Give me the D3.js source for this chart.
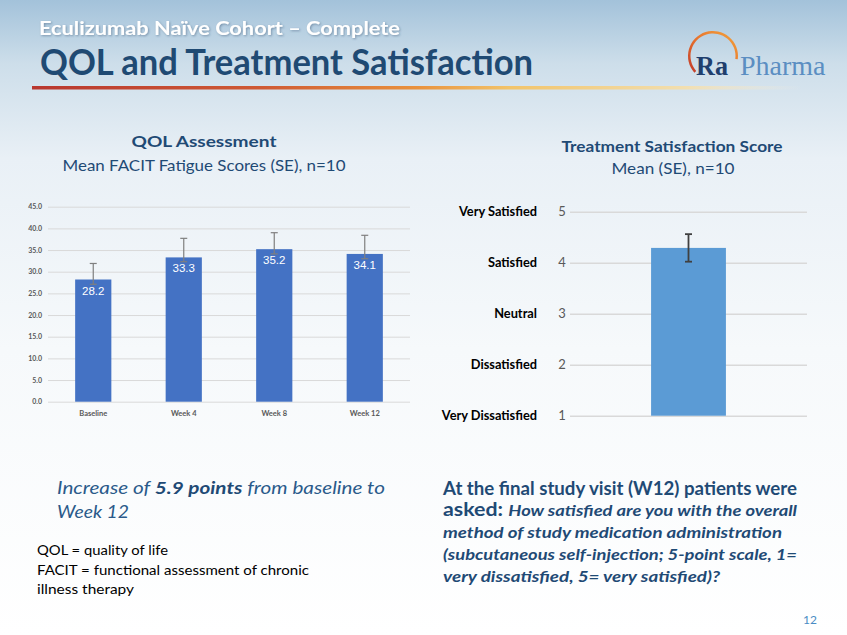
<!DOCTYPE html>
<html>
<head>
<meta charset="utf-8">
<script src="https://cdn.jsdelivr.net/npm/d3@7"></script>
<style>
  html, body { margin: 0; padding: 0; background: #fff; }
  svg { display: block; }
</style>
</head>
<body>
<svg id="chart" width="847" height="635"></svg>
<script>
// ---------- DATA ----------
const qolCategories = ["Baseline", "Week 4", "Week 8", "Week 12"];
const qolMeans = [28.2, 33.3, 35.2, 34.1];
const qolErrPlus = [3.7, 4.4, 3.8, 4.3];
const qolErrMinus = [1.1, 1.0, 1.1, 1.1];
const qolTicks = [0, 5, 10, 15, 20, 25, 30, 35, 40, 45];

const satCategories = ["W12"];
const satMeans = [4.29];
const satSE = [0.27];
const satTicks = [1, 2, 3, 4, 5];
const satTickLabels = ["Very Dissatisfied", "Dissatisfied", "Neutral", "Satisfied", "Very Satisfied"];

// ---------- SETUP ----------
const svg = d3.select("#chart");
const FONT = "Lato, 'Open Sans', sans-serif";
const DARK = "#1F4A75";
const defs = svg.append("defs");

const bg = defs.append("linearGradient").attr("id", "bg").attr("x1", 0).attr("y1", 0).attr("x2", 0).attr("y2", 1);
bg.append("stop").attr("offset", 0).attr("stop-color", "#a3c2da");
bg.append("stop").attr("offset", 0.1).attr("stop-color", "#cddeea");
bg.append("stop").attr("offset", 0.25).attr("stop-color", "#e9f0f6");
bg.append("stop").attr("offset", 0.55).attr("stop-color", "#f6f9fb");
bg.append("stop").attr("offset", 1).attr("stop-color", "#ffffff");
svg.append("rect").attr("width", 847).attr("height", 635).attr("fill", "url(#bg)");

const shadow = defs.append("filter").attr("id", "shadow").attr("x", "-5%").attr("y", "-20%").attr("width", "110%").attr("height", "150%");
shadow.append("feDropShadow").attr("dx", 1).attr("dy", 1).attr("stdDeviation", 0.8).attr("flood-color", "#2a4a6a").attr("flood-opacity", 0.45);

const rule = defs.append("linearGradient").attr("id", "rule");
rule.append("stop").attr("offset", 0).attr("stop-color", "#b8372f");
rule.append("stop").attr("offset", 0.3).attr("stop-color", "#cf5a34");
rule.append("stop").attr("offset", 0.5).attr("stop-color", "#e9923d");
rule.append("stop").attr("offset", 0.62).attr("stop-color", "#f2c46a");
rule.append("stop").attr("offset", 0.85).attr("stop-color", "#f2dfb0");
rule.append("stop").attr("offset", 1).attr("stop-color", "#f2ece0").attr("stop-opacity", 0);
svg.append("rect").attr("x", 32).attr("y", 86).attr("width", 770).attr("height", 3.5).attr("fill", "url(#rule)");

function txt(str, x, y, opt) {
  const t = svg.append("text").attr("x", x).attr("y", y)
    .attr("font-family", opt.family || FONT)
    .attr("font-size", opt.size)
    .attr("font-weight", opt.weight || "normal")
    .attr("font-style", opt.style || "normal")
    .attr("fill", opt.color || "#000")
    .attr("text-anchor", opt.anchor || "start")
    .text(str);
  if (opt.width) fit(t, opt.width);
  return t;
}
function fit(t, w) {
  const len = t.node().getComputedTextLength();
  if (Math.abs(len - w) > 2) t.attr("textLength", w).attr("lengthAdjust", "spacingAndGlyphs");
}

// ---------- HEADER ----------
txt("Eculizumab Naïve Cohort – Complete", 39, 35, {size: 19, weight: "bold", color: "#ffffff", width: 361}).attr("filter", "url(#shadow)");
txt("QOL and Treatment Satisfaction", 40, 75, {size: 36, weight: "bold", color: "#1F4A73", width: 493});

// Logo
const arcGrad = defs.append("linearGradient").attr("id", "arcGrad").attr("x1", 0).attr("y1", 1).attr("x2", 1).attr("y2", 0);
arcGrad.append("stop").attr("offset", 0).attr("stop-color", "#c0392b");
arcGrad.append("stop").attr("offset", 0.5).attr("stop-color", "#e8742e");
arcGrad.append("stop").attr("offset", 1).attr("stop-color", "#f2a53c");
svg.append("path")
  .attr("transform", "translate(713,56)")
  .attr("d", d3.arc().innerRadius(22.5).outerRadius(25)({startAngle: -2.3, endAngle: 1.7}))
  .attr("fill", "url(#arcGrad)");
txt("Ra", 696, 75, {family: "'Liberation Serif', serif", size: 28, weight: "bold", color: "#1F3F6E", width: 32});
txt("Pharma", 740, 75, {family: "'Liberation Serif', serif", size: 28, color: "#5B8EC2", width: 85});

// ---------- LEFT CHART ----------
txt("QOL Assessment", 204, 147, {size: 16, weight: "bold", color: DARK, anchor: "middle", width: 145});
txt("Mean FACIT Fatigue Scores (SE), n=10", 204, 171, {size: 16, color: DARK, anchor: "middle", width: 283});

const xL = d3.scaleBand().domain(qolCategories).range([48, 410]).paddingInner(0.6).paddingOuter(0.3);
const yL = d3.scaleLinear().domain([0, 45]).range([401.7, 206.7]);

const gL = svg.append("g");
const yAxisL = d3.axisLeft(yL).tickValues(qolTicks).tickFormat(d3.format(".1f")).tickSize(-362).tickPadding(6);
gL.append("g").attr("transform", "translate(48,0)").call(yAxisL)
  .call(g => g.select(".domain").remove())
  .call(g => g.selectAll(".tick line").attr("stroke", "#d9d9d9").attr("stroke-width", 1))
  .call(g => g.selectAll(".tick text").attr("font-family", FONT).attr("font-size", 7).attr("font-weight", "bold").attr("fill", "#595959"));

gL.selectAll("rect.bar").data(qolMeans).join("rect").attr("class", "bar")
  .attr("x", (d, i) => xL(qolCategories[i]))
  .attr("width", xL.bandwidth())
  .attr("y", d => yL(d))
  .attr("height", d => yL(0) - yL(d))
  .attr("fill", "#4472C4");

const errL = gL.selectAll("g.err").data(qolMeans).join("g").attr("class", "err")
  .attr("stroke", "#7f7f7f").attr("stroke-width", 1.2);
errL.append("line")
  .attr("x1", (d, i) => xL(qolCategories[i]) + xL.bandwidth() / 2)
  .attr("x2", (d, i) => xL(qolCategories[i]) + xL.bandwidth() / 2)
  .attr("y1", (d, i) => yL(d + qolErrPlus[i]))
  .attr("y2", (d, i) => yL(d - qolErrMinus[i]));
errL.append("line")
  .attr("x1", (d, i) => xL(qolCategories[i]) + xL.bandwidth() / 2 - 3.5)
  .attr("x2", (d, i) => xL(qolCategories[i]) + xL.bandwidth() / 2 + 3.5)
  .attr("y1", (d, i) => yL(d + qolErrPlus[i]))
  .attr("y2", (d, i) => yL(d + qolErrPlus[i]));
errL.append("line")
  .attr("x1", (d, i) => xL(qolCategories[i]) + xL.bandwidth() / 2 - 3.5)
  .attr("x2", (d, i) => xL(qolCategories[i]) + xL.bandwidth() / 2 + 3.5)
  .attr("y1", (d, i) => yL(d - qolErrMinus[i]))
  .attr("y2", (d, i) => yL(d - qolErrMinus[i]));

gL.selectAll("text.lbl").data(qolMeans).join("text").attr("class", "lbl")
  .attr("x", (d, i) => xL(qolCategories[i]) + xL.bandwidth() / 2)
  .attr("y", d => yL(d) + 15)
  .attr("text-anchor", "middle")
  .attr("font-family", "'Liberation Sans', Arial, sans-serif")
  .attr("font-size", 11.5)
  .attr("fill", "#ffffff")
  .text(d => d.toFixed(1));

const xAxisL = d3.axisBottom(xL).tickSize(0).tickPadding(9);
gL.append("g").attr("transform", "translate(0,401.7)").call(xAxisL)
  .call(g => g.select(".domain").remove())
  .call(g => g.selectAll(".tick text").attr("font-family", FONT).attr("font-size", 7.5).attr("font-weight", "bold").attr("fill", "#595959"));

// ---------- RIGHT CHART ----------
txt("Treatment Satisfaction Score", 672, 152, {size: 15.5, weight: "bold", color: DARK, anchor: "middle", width: 221});
txt("Mean (SE), n=10", 673, 174, {size: 16, color: DARK, anchor: "middle", width: 123});

const xR = d3.scaleBand().domain(satCategories).range([570, 807]).paddingInner(0.52).paddingOuter(0.52);
const yR = d3.scaleLinear().domain([1, 5]).range([415.7, 211.7]);
const gR = svg.append("g");

gR.append("g").attr("transform", "translate(570,0)")
  .call(d3.axisLeft(yR).tickValues(satTicks).tickFormat(d3.format("d")).tickSize(-237).tickPadding(14))
  .call(g => g.select(".domain").remove())
  .call(g => g.selectAll(".tick line").attr("stroke", "#d9d9d9").attr("stroke-width", 1.6))
  .call(g => g.selectAll(".tick text").attr("font-family", FONT).attr("font-size", 13).attr("fill", "#595959").attr("text-anchor", "middle").attr("dx", 6));

gR.selectAll("text.cat").data(satTicks).join("text").attr("class", "cat")
  .attr("x", 537).attr("y", d => yR(d) + 4.5)
  .attr("text-anchor", "end")
  .attr("font-family", FONT).attr("font-size", 12.8).attr("font-weight", "bold").attr("fill", "#000")
  .text((d, i) => satTickLabels[i]);

gR.selectAll("rect.bar").data(satMeans).join("rect").attr("class", "bar")
  .attr("x", (d, i) => xR(satCategories[i]))
  .attr("width", xR.bandwidth())
  .attr("y", d => yR(d))
  .attr("height", d => yR(1) - yR(d))
  .attr("fill", "#5B9BD5");

const errR = gR.selectAll("g.err").data(satMeans).join("g").attr("class", "err")
  .attr("stroke", "#404040").attr("stroke-width", 1.8);
errR.append("line")
  .attr("x1", (d, i) => xR(satCategories[i]) + xR.bandwidth() / 2)
  .attr("x2", (d, i) => xR(satCategories[i]) + xR.bandwidth() / 2)
  .attr("y1", (d, i) => yR(d + satSE[i]))
  .attr("y2", (d, i) => yR(d - satSE[i]));
[1, -1].forEach(s => {
  errR.append("line")
    .attr("x1", (d, i) => xR(satCategories[i]) + xR.bandwidth() / 2 - 3.5)
    .attr("x2", (d, i) => xR(satCategories[i]) + xR.bandwidth() / 2 + 3.5)
    .attr("y1", (d, i) => yR(d + s * satSE[i]))
    .attr("y2", (d, i) => yR(d + s * satSE[i]));
});

// ---------- BOTTOM TEXT ----------
const inc = svg.append("text").attr("x", 57).attr("y", 494)
  .attr("font-family", FONT).attr("font-size", 17.5).attr("font-style", "italic").attr("fill", "#2A5A8A");
inc.append("tspan").text("Increase of ");
inc.append("tspan").attr("font-weight", "bold").attr("fill", "#1F4A75").text("5.9 points");
inc.append("tspan").text(" from baseline to");
fit(inc, 328);
txt("Week 12", 57, 518, {size: 17.5, style: "italic", color: "#2A5A8A", width: 72});

txt("QOL = quality of life", 37, 555, {size: 13.5, color: "#000", width: 131});
txt("FACIT = functional assessment of chronic", 37, 574.5, {size: 13.5, color: "#000", width: 272});
txt("illness therapy", 37, 594, {size: 13.5, color: "#000", width: 97});

txt("At the final study visit (W12) patients were", 443, 495, {size: 18, weight: "bold", color: DARK, width: 354});
const l2 = svg.append("text").attr("x", 443).attr("y", 516)
  .attr("font-family", FONT).attr("font-weight", "bold").attr("fill", DARK);
l2.append("tspan").attr("font-size", 18).text("asked: ");
l2.append("tspan").attr("font-size", 15.5).attr("font-style", "italic").text("How satisfied are you with the overall");
fit(l2, 354);
txt("method of study medication administration", 443, 538, {size: 15.5, weight: "bold", style: "italic", color: DARK, width: 339});
txt("(subcutaneous self-injection; 5-point scale, 1=", 443, 560, {size: 15.5, weight: "bold", style: "italic", color: DARK, width: 354});
txt("very dissatisfied, 5= very satisfied)?", 443, 582, {size: 15.5, weight: "bold", style: "italic", color: DARK, width: 277});

txt("12", 817, 624, {size: 12, color: "#4a8cc4", anchor: "end"});
</script>
</body>
</html>
